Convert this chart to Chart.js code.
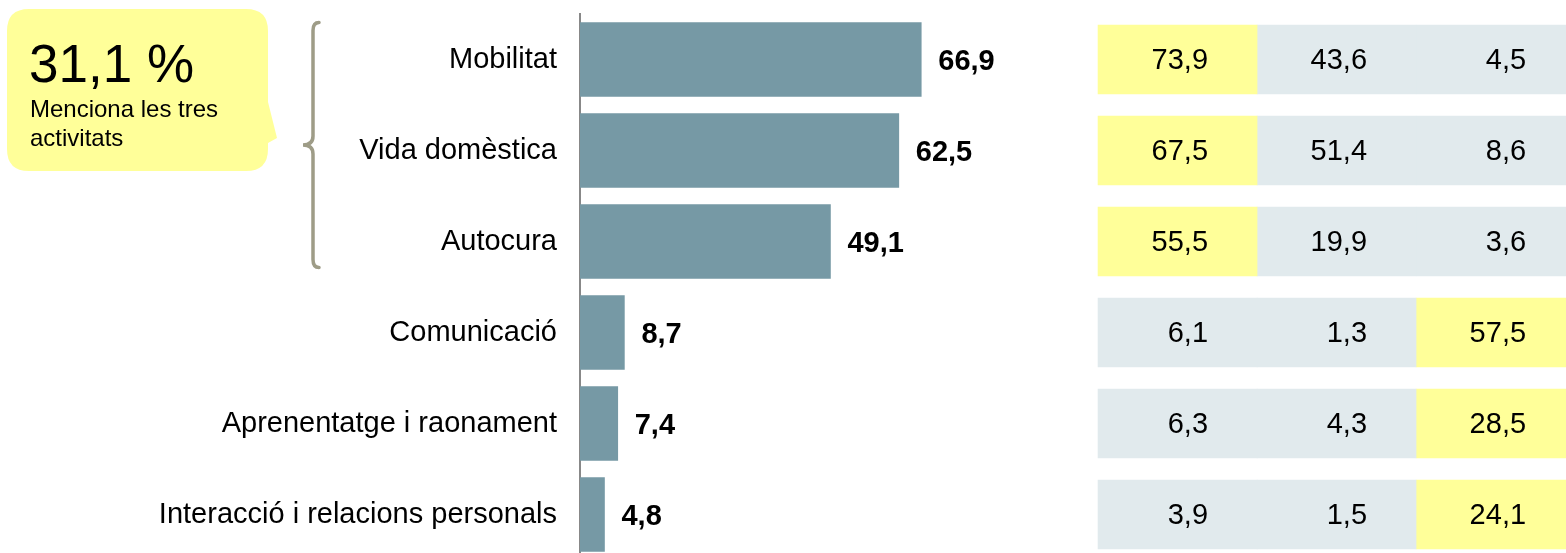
<!DOCTYPE html>
<html>
<head>
<meta charset="utf-8">
<script src="https://cdn.jsdelivr.net/npm/chart.js@4/dist/chart.umd.min.js"></script>
<style>
  html, body { margin: 0; padding: 0; background: #fff; overflow: hidden; }
  #wrap { width: 1566px; height: 553px; overflow: hidden; }
</style>
</head>
<body>
<div id="wrap"><canvas id="activitatsChart" width="1566" height="560"></canvas></div>
<script>
// Data
const categories = ['Mobilitat', 'Vida domèstica', 'Autocura', 'Comunicació', 'Aprenentatge i raonament', 'Interacció i relacions personals'];
const totals = [66.9, 62.5, 49.1, 8.7, 7.4, 4.8];
const table1 = [73.9, 67.5, 55.5, 6.1, 6.3, 3.9];
const table2 = [43.6, 51.4, 19.9, 1.3, 4.3, 1.5];
const table3 = [4.5, 8.6, 3.6, 57.5, 28.5, 24.1];
const tableColumns = [table1, table2, table3];
const calloutValue = 31.1;
const calloutText = ['Menciona les tres', 'activitats'];
const bracedRows = 3;

const FONT = '"Liberation Sans", Arial, sans-serif';
const BAR_COLOR = '#7699A5';
const YELLOW = '#FFFF99';
const GREY = '#E1EAED';

function fmt(v) {
    return v.toFixed(1).replace('.', ',');
}

// highlight the largest value of each table row
function isRowMax(col, row) {
    const rowVals = tableColumns.map(c => c[row]);
    return tableColumns[col][row] === Math.max(...rowVals);
}

// one unit-wide cell per table column
const cellDatasets = tableColumns.map((col, c) => ({
    label: 'col' + (c + 1),
    data: col.map(() => 1),
    xAxisID: 'x2',
    grouped: false,
    barThickness: 69,
    borderWidth: 0,
    backgroundColor: (ctx) => isRowMax(c, ctx.dataIndex) ? YELLOW : GREY
}));

// Labels, table text, brace and callout
const decorations = {
    id: 'decorations',
    afterDatasetsDraw(chart) {
        const ctx = chart.ctx;
        const yScale = chart.scales.y;
        const x2 = chart.scales.x2;

        // value labels next to the bars
        const meta = chart.getDatasetMeta(0);
        ctx.save();
        ctx.fillStyle = '#000';
        ctx.font = 'bold 29px ' + FONT;
        ctx.textAlign = 'left';
        ctx.textBaseline = 'middle';
        meta.data.forEach((bar, i) => {
            ctx.fillText(fmt(totals[i]), bar.x + 17, bar.y + 2);
        });

        // table numbers, right aligned in each cell
        ctx.font = '29px ' + FONT;
        ctx.textAlign = 'right';
        tableColumns.forEach((col, c) => {
            const right = x2.getPixelForValue(c + 1) - 49;
            col.forEach((v, i) => {
                ctx.fillText(fmt(v), right, yScale.getPixelForValue(i) + 1);
            });
        });
        ctx.restore();
    },
    afterDraw(chart) {
        const ctx = chart.ctx;
        const yScale = chart.scales.y;

        // curly brace over the first rows
        const top = yScale.getPixelForValue(0) - 37;
        const bottom = yScale.getPixelForValue(bracedRows - 1) + 26;
        const mid = (top + bottom) / 2;
        const bx = 313;
        ctx.save();
        ctx.strokeStyle = '#9E9C87';
        ctx.lineWidth = 3.5;
        ctx.lineCap = 'round';
        ctx.beginPath();
        ctx.moveTo(bx + 6, top);
        ctx.quadraticCurveTo(bx, top, bx, top + 8);
        ctx.lineTo(bx, mid - 9);
        ctx.quadraticCurveTo(bx, mid, bx - 10, mid);
        ctx.quadraticCurveTo(bx, mid, bx, mid + 9);
        ctx.lineTo(bx, bottom - 8);
        ctx.quadraticCurveTo(bx, bottom, bx + 6, bottom);
        ctx.stroke();

        // callout bubble
        const l = 7, t = 9, r = 268, b = 171, rad = 22;
        ctx.fillStyle = YELLOW;
        ctx.beginPath();
        ctx.moveTo(l + rad, t);
        ctx.lineTo(r - rad, t);
        ctx.quadraticCurveTo(r, t, r, t + rad);
        ctx.lineTo(r, 102);
        ctx.lineTo(277, 138);
        ctx.lineTo(r, 143);
        ctx.lineTo(r, b - rad);
        ctx.quadraticCurveTo(r, b, r - rad, b);
        ctx.lineTo(l + rad, b);
        ctx.quadraticCurveTo(l, b, l, b - rad);
        ctx.lineTo(l, t + rad);
        ctx.quadraticCurveTo(l, t, l + rad, t);
        ctx.closePath();
        ctx.fill();

        ctx.fillStyle = '#000';
        ctx.textAlign = 'left';
        ctx.textBaseline = 'alphabetic';
        ctx.font = '53px ' + FONT;
        ctx.fillText(fmt(calloutValue) + ' %', 29, 82);
        ctx.font = '24px ' + FONT;
        ctx.fillText(calloutText[0], 30, 117);
        ctx.fillText(calloutText[1], 30, 146);
        ctx.restore();
    }
};

function initializeChart() {
    const chartCtx = document.getElementById('activitatsChart').getContext('2d');
    new Chart(chartCtx, {
        type: 'bar',
        data: {
            labels: categories,
            datasets: [{
                label: 'Total',
                data: totals,
                xAxisID: 'x',
                grouped: false,
                barThickness: 74,
                borderWidth: 0,
                backgroundColor: BAR_COLOR
            }, ...cellDatasets]
        },
        options: {
            indexAxis: 'y',
            responsive: false,
            animation: false,
            layout: { padding: { top: 14, left: 0, right: 0, bottom: 0 } },
            plugins: {
                legend: { display: false },
                tooltip: { enabled: false }
            },
            scales: {
                x: {
                    display: false,
                    min: 0,
                    max: 193.3
                },
                x2: {
                    display: false,
                    stacked: true,
                    min: -3.258,
                    max: 2.943
                },
                y: {
                    grid: { display: false, drawTicks: false },
                    border: { display: true, color: '#888888', width: 2 },
                    ticks: {
                        color: '#000',
                        padding: 23,
                        font: { family: FONT, size: 29 }
                    },
                    afterFit: (scale) => {
                        scale.width = 580;
                        scale.paddingTop = 0;
                        scale.paddingBottom = 0;
                    }
                }
            }
        },
        plugins: [decorations]
    });
}

document.addEventListener('DOMContentLoaded', initializeChart);
</script>
</body>
</html>
